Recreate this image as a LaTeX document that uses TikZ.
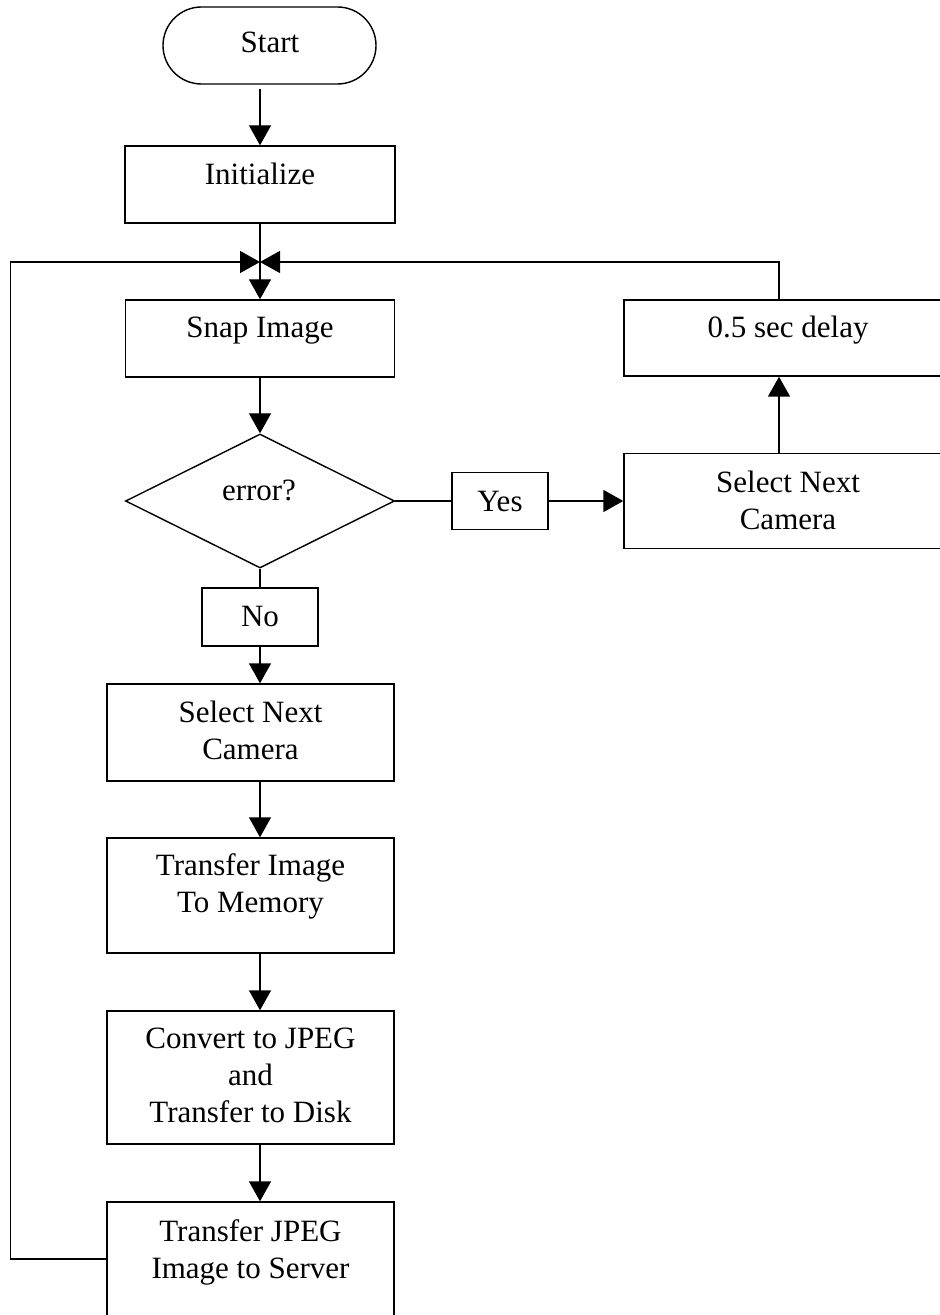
\documentclass[tikz,border=0pt]{standalone}
\usepackage{fontspec}
\setmainfont{Liberation Serif}
\usepackage{tikz}
\usetikzlibrary{arrows.meta,positioning,shapes.geometric,shapes.misc}
\newcommand{\fclines}[1]{\begin{tabular}[t]{@{}c@{}}#1\end{tabular}}
\tikzset{
  fcbox/.style={draw=black, line width=0.7pt, rectangle, inner sep=0pt},
  fcterm/.style={fcbox, rounded rectangle},
  fcdecide/.style={fcbox, diamond, aspect=2},
  fctext/.style={anchor=base, inner sep=0pt, font=\fontsize{15.5}{18.5}\selectfont},
  fcline/.style={draw=black, line width=0.7pt},
  fcarrow/.style={fcline, -{Triangle[length=10pt,width=11pt]}},
}
\begin{document}
\begin{tikzpicture}[x=0.5pt,y=-0.5pt]
  \useasboundingbox (0,0) rectangle (940,1315);
  \clip (0,0) rectangle (940,1315);

  % main column
  \node[fcterm, minimum width=106.5pt, minimum height=38.5pt] (start) at (269.5,45.5) {};
  \node[fcbox, minimum width=135pt, minimum height=38.5pt] (init) at (260,184.5) {};
  \node[fcbox, minimum width=134.5pt, minimum height=38.5pt] (snap) at (260,338.5) {};
  \node[fcdecide, minimum width=134.5pt, minimum height=67pt] (err) at (260,501) {};
  \node[fcbox, minimum width=58pt, minimum height=29pt] (no) at (260,617) {};
  \node[fcbox, minimum width=143.5pt, minimum height=48.5pt] (selL) at (250.5,732.5) {};
  \node[fcbox, minimum width=143.5pt, minimum height=57.5pt] (xfer) at (250.5,895.5) {};
  \node[fcbox, minimum width=143.5pt, minimum height=66.5pt] (conv) at (250.5,1077.5) {};
  \node[fcbox, minimum width=143.5pt, minimum height=57pt] (send) at (250.5,1259) {};
  % error branch
  \node[fcbox, minimum width=48pt, minimum height=28.5pt] (yes) at (500,501) {};
  \node[fcbox, minimum width=164pt, minimum height=47.5pt] (selR) at (788,501) {};
  \node[fcbox, minimum width=164pt, minimum height=38pt] (delay) at (788,338) {};

  % texts
  \node[fctext] (startT) at (270,53) {Start};
  \node[fctext] (initT) at (260,185) {Initialize};
  \node[fctext] (snapT) at (260,338) {Snap Image};
  \node[fctext] (errT) at (259,500) {error?};
  \node[fctext] (noT) at (260,626) {No};
  \node[fctext] (yesT) at (500,511) {Yes};
  \node[fctext] (selLT) at (250.5,722) {\fclines{Select Next\\Camera}};
  \node[fctext] (xferT) at (250.5,875) {\fclines{Transfer Image\\To Memory}};
  \node[fctext] (convT) at (250.5,1048) {\fclines{Convert to JPEG\\and\\Transfer to Disk}};
  \node[fctext] (sendT) at (250.5,1241) {\fclines{Transfer JPEG\\Image to Server}};
  \node[fctext] (selRT) at (788,492) {\fclines{Select Next\\Camera}};
  \node[fctext] (delayT) at (788,338) {0.5 sec delay};

  \coordinate (join) at (260,262);
  \coordinate (riser) at (779,262);
  \coordinate (loop) at (10.7,262);

  \draw[fcarrow, shorten <=2pt] (start.south -| init.north) -- (init.north);
  \draw[fcline] (init.south) -- (join);
  \draw[fcarrow] (join) -- (snap.north);
  \draw[fcarrow] (snap.south) -- (err.north);
  \draw[fcline] (err.east) -- (yes.west);
  \draw[fcarrow] (yes.east) -- (selR.west);
  \draw[fcarrow] (selR.north -| riser) -- (delay.south -| riser);
  \draw[fcarrow] (delay.north -| riser) -- (riser) -- (join);
  \draw[fcline] (err.south) -- (no.north);
  \draw[fcarrow] (no.south) -- (no.south |- selL.north);
  \draw[fcarrow] (selL.south -| join) -- (xfer.north -| join);
  \draw[fcarrow] (xfer.south -| join) -- (conv.north -| join);
  \draw[fcarrow] (conv.south -| join) -- (send.north -| join);
  \draw[fcarrow] (send.west) -| (loop) -- (join);
\end{tikzpicture}
\end{document}
